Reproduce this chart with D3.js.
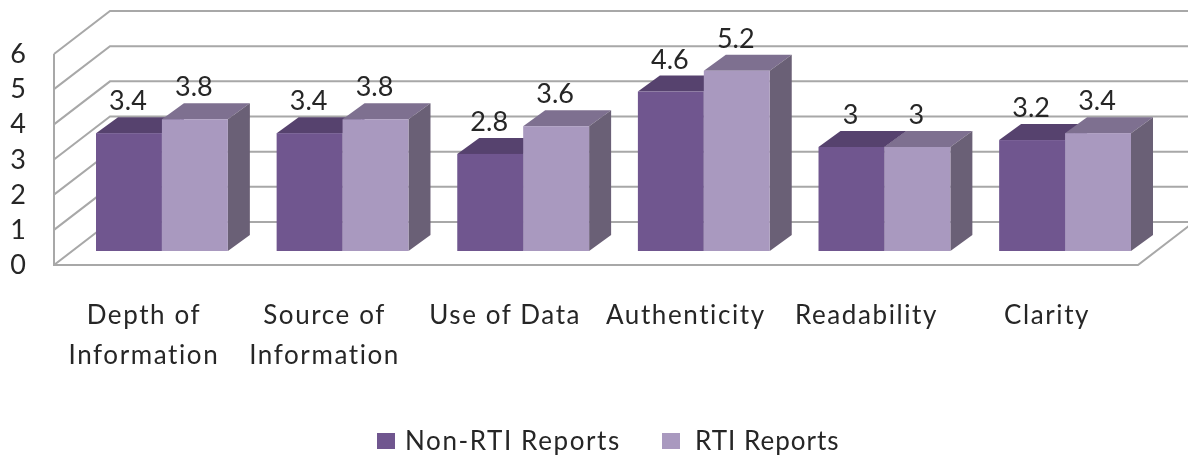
<!DOCTYPE html>
<html>
<head>
<meta charset="utf-8">
<script src="https://cdn.jsdelivr.net/npm/d3@7"></script>
<style>
  html, body { margin: 0; padding: 0; background: #fff; }
  text { font-family: Lato, sans-serif; fill: #262626; }
</style>
</head>
<body>
<svg id="svg" width="1188" height="455"></svg>
<script>
// chart values
let categories = [["Depth of", "Information"], ["Source of", "Information"], ["Use of Data"], ["Authenticity"], ["Readability"], ["Clarity"]];
let seriesNames = ["Non-RTI Reports", "RTI Reports"];
let nonRti = [3.4, 3.4, 2.8, 4.6, 3, 3.2];
let rti = [3.8, 3.8, 3.6, 5.2, 3, 3.4];
let yTicks = [0, 1, 2, 3, 4, 5, 6];

// declare colors
let grid = "#a8a8a8";
let front = ["#70578f", "#a999bf"];
let top_ = ["#57426e", "#7e7090"];
let side = ["#57426e", "#6b6076"];

// depth of the fake 3d box
let wallDx = 56, wallDy = -43;
let barDx = 22, barDy = -16;

let svg = d3.select("#svg");

let defs = svg.append("defs");
defs.append("filter").attr("id", "soft")
  .append("feGaussianBlur").attr("stdDeviation", 0.55);

let chart = svg.append("g").attr("filter", "url(#soft)");

let labels = categories.map(function (d) { return d.join(" "); });

let xGroup = d3.scaleBand().domain(labels).range([96, 1131]).paddingInner(0.27);
let xBar = d3.scaleBand().domain([0, 1]).range([0, xGroup.bandwidth()]);

// y on the front edge of the wall, bars stand a bit further back
let yFront = d3.scaleLinear().domain([0, 6]).range([265, 54]);
let yBar = d3.scaleLinear().domain([0, 6]).range([251, 43]);

let wallLeft = 54, wallRight = 1138;

// gridlines
let gGrid = chart.append("g").attr("fill", "none").attr("stroke", grid).attr("stroke-width", 2);

gGrid.selectAll(".wall").data(yTicks).join("path")
  .attr("class", "wall")
  .attr("d", function (d) {
    let y = yFront(d);
    return "M" + wallLeft + "," + y + "L" + (wallLeft + wallDx) + "," + (y + wallDy) + "H1188";
  });

gGrid.append("path")
  .attr("d", "M" + wallLeft + "," + yFront(6) + "V" + yFront(0) + "H" + wallRight + "l" + wallDx + "," + wallDy);

// bars
let gBars = chart.append("g");
let values = [nonRti, rti];

labels.forEach(function (c, i) {
  values.forEach(function (series, s) {
    let x0 = xGroup(c) + xBar(s);
    let x1 = x0 + xBar.bandwidth();
    let yTop = yBar(series[i]);
    let yBase = yBar(0);
    let g = gBars.append("g");
    g.append("path").attr("fill", top_[s])
      .attr("d", "M" + x0 + "," + yTop + "l" + barDx + "," + barDy + "H" + (x1 + barDx) + "L" + x1 + "," + yTop + "Z");
    g.append("path").attr("fill", side[s])
      .attr("d", "M" + x1 + "," + yTop + "l" + barDx + "," + barDy + "V" + (yBase + barDy) + "L" + x1 + "," + yBase + "Z");
    g.append("rect").attr("fill", front[s])
      .attr("x", x0).attr("y", yTop)
      .attr("width", xBar.bandwidth()).attr("height", yBase - yTop);
  });
});

// data labels
labels.forEach(function (c, i) {
  values.forEach(function (series, s) {
    chart.append("text")
      .attr("x", xGroup(c) + xBar(s) + xBar.bandwidth() / 2 - 1)
      .attr("y", yBar(series[i]) - 23)
      .attr("text-anchor", "middle")
      .attr("font-size", 27)
      .text(series[i]);
  });
});

// y axis labels
let axis = d3.axisLeft(yFront).tickValues(yTicks).tickSize(0).tickPadding(0).tickFormat(d3.format("d"));
let gAxis = chart.append("g").attr("transform", "translate(26,0)").call(axis);
gAxis.select(".domain").remove();
gAxis.selectAll("text").attr("font-size", 27).attr("font-family", "Lato, sans-serif");

// category labels
labels.forEach(function (c, i) {
  let t = chart.append("text")
    .attr("text-anchor", "middle")
    .attr("font-size", 26)
    .attr("letter-spacing", 1.6);
  categories[i].forEach(function (line, k) {
    t.append("tspan")
      .attr("x", xGroup(c) + xGroup.bandwidth() / 2 - 18)
      .attr("y", 324 + k * 40)
      .text(line);
  });
});

// legend
let legendX = [377, 662];
let legendText = [405, 695];
let legendSpacing = [1.6, 1];
seriesNames.forEach(function (name, s) {
  chart.append("rect").attr("x", legendX[s]).attr("y", 433)
    .attr("width", 18).attr("height", 16).attr("fill", front[s]);
  chart.append("text").attr("x", legendText[s]).attr("y", 450)
    .attr("font-size", 26).attr("letter-spacing", legendSpacing[s]).text(name);
});
</script>
</body>
</html>
